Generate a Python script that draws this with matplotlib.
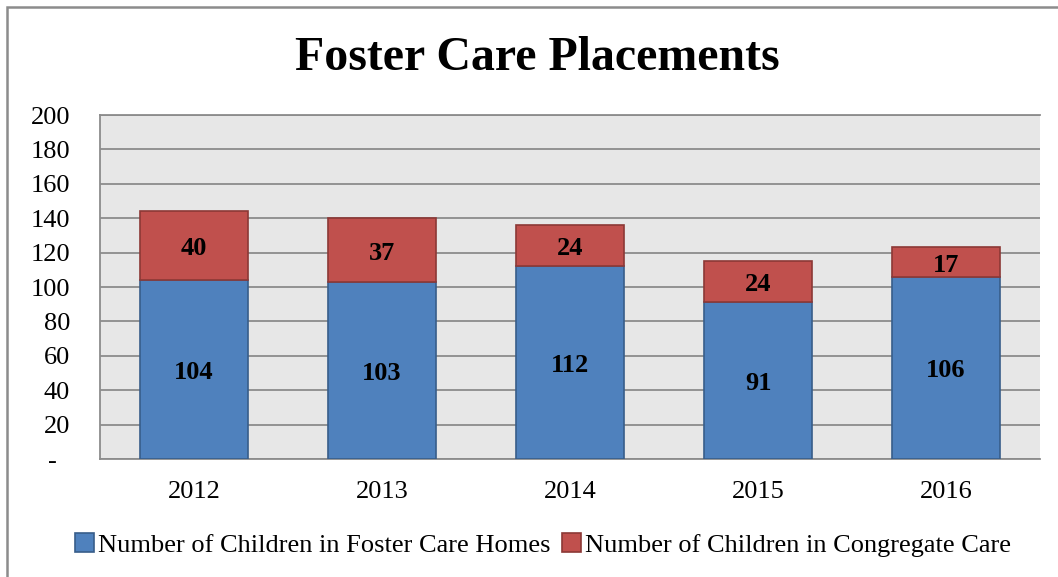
import matplotlib
matplotlib.use("Agg")
import matplotlib.pyplot as plt
from matplotlib.patches import Rectangle

years = ["2012", "2013", "2014", "2015", "2016"]
foster_homes = [104, 103, 112, 91, 106]
congregate = [40, 37, 24, 24, 17]
y_ticks = [0, 20, 40, 60, 80, 100, 120, 140, 160, 180, 200]
y_tick_labels = ["-  "] + [str(v) for v in y_ticks[1:]]

plt.rcParams["font.family"] = ["Liberation Serif", "DejaVu Serif"]

fig = plt.figure(figsize=(10.58, 5.77), dpi=100)
ax = fig.add_axes([100 / 1058, 1 - 459 / 577, 940 / 1058, 344 / 577])

ax.set_facecolor("#e7e7e7")
x = range(len(years))
b1 = ax.bar(x, foster_homes, width=0.575, color="#4f81bd", edgecolor="#385d8a",
            linewidth=1.2, label="Number of Children in Foster Care Homes", zorder=3)
b2 = ax.bar(x, congregate, bottom=foster_homes, width=0.575, color="#c0504d",
            edgecolor="#8c3836", linewidth=1.2,
            label="Number of Children in Congregate Care", zorder=3)

for i in x:
    ax.annotate(str(foster_homes[i]), (i, foster_homes[i] / 2), xytext=(0, -2.2),
                textcoords="offset points", ha="center", va="center",
                fontsize=19, fontweight="bold", zorder=4)
    ax.annotate(str(congregate[i]), (i, foster_homes[i] + congregate[i] / 2), xytext=(0, -2.2),
                textcoords="offset points", ha="center", va="center",
                fontsize=19, fontweight="bold", zorder=4)

ax.set_xlim(-0.5, 4.5)
ax.set_ylim(0, 200)
ax.set_yticks(y_ticks)
ax.set_yticklabels(y_tick_labels)
ax.set_xticks(list(x))
ax.set_xticklabels(years)
ax.tick_params(axis="both", length=0, labelsize=19)
ax.tick_params(axis="y", pad=21.5)
ax.tick_params(axis="x", pad=16)
ax.yaxis.grid(True, color="#8c8c8c", linewidth=1.3, zorder=0)
ax.set_axisbelow(True)
for side in ["left", "bottom", "top"]:
    ax.spines[side].set_color("#8c8c8c")
    ax.spines[side].set_linewidth(1.3)
ax.spines["right"].set_visible(False)

fig.suptitle("Foster Care Placements", fontsize=34.5, fontweight="bold", x=537 / 1058, y=1 - 58 / 577,
             va="center")

fig.legend(handles=[b1, b2], loc="center", bbox_to_anchor=(543 / 1058, 1 - 545 / 577),
           ncol=2, frameon=False, fontsize=19, handlelength=0.7, handleheight=0.7,
           handletextpad=0.15, columnspacing=0.45, borderaxespad=0)

# outer chart border (right and bottom fall outside the crop)
fig.patches.append(Rectangle((7 / 1058, -0.1), 1.2, 1 - 7 / 577 + 0.1, transform=fig.transFigure,
                             fill=False, edgecolor="#8c8c8c", linewidth=1.8))

fig.savefig("out.png", dpi=100)
